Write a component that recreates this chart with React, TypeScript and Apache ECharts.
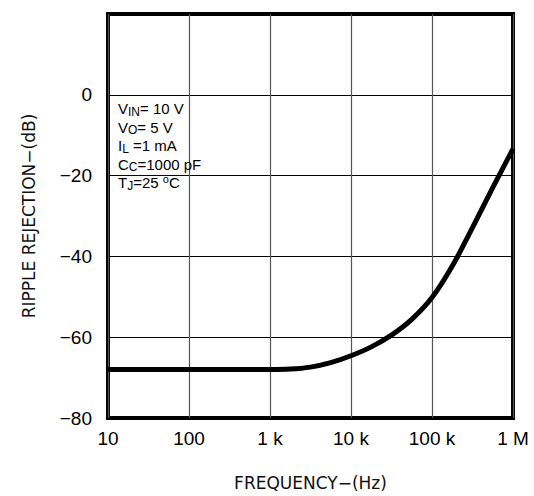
import React, { useEffect, useRef } from "react";
import * as echarts from "echarts";

const frequencies = [10, 100, 316, 1000, 1780, 3160, 5620, 10000, 17800, 31600, 56200, 100000, 178000, 316000, 562000, 1000000];
const rejectionDb = [-68, -68, -68, -68, -67.9, -67.4, -66.3, -64.6, -62.4, -59.5, -55.6, -50.2, -42.4, -32.9, -23.0, -13.4];
const xTickLabels: Record<number, string> = { 10: "10", 100: "100", 1000: "1 k", 10000: "10 k", 100000: "100 k", 1000000: "1 M" };
const yTickLabels: Record<number, string> = { 0: "0", [-20]: "−20", [-40]: "−40", [-60]: "−60", [-80]: "−80" };

export default function App() {
  const ref = useRef<HTMLDivElement>(null);
  useEffect(() => {
    document.body.style.margin = "0";
    const chart = echarts.init(ref.current!, null, { renderer: "svg" });
    const data = frequencies.map((f, i) => [f, rejectionDb[i]]);
    chart.setOption({
      animation: false,
      backgroundColor: "#fff",
      grid: {
        left: 108, right: 21, top: 14, bottom: 77,
        show: true, borderColor: "#000", borderWidth: 4, backgroundColor: "transparent",
      },
      xAxis: {
        type: "log", logBase: 10, min: 10, max: 1000000,
        name: "FREQUENCY−(Hz)", nameLocation: "middle", nameGap: 56,
        nameTextStyle: { fontFamily: "DejaVu Sans", fontSize: 17, color: "#111" },
        axisLine: { show: false }, axisTick: { show: false },
        axisLabel: {
          margin: 11, fontFamily: "Liberation Sans", fontSize: 19, color: "#000",
          formatter: (v: number) => xTickLabels[Math.round(v)] ?? "",
        },
        splitLine: { show: true, lineStyle: { color: "#555", width: 1.2 } },
        minorSplitLine: { show: false },
      },
      yAxis: {
        type: "value", min: -80, max: 20, interval: 20,
        name: "RIPPLE REJECTION−(dB)", nameLocation: "middle", nameGap: 71, nameRotate: 90,
        nameTextStyle: { fontFamily: "DejaVu Sans", fontSize: 17, color: "#111" },
        axisLine: { show: false }, axisTick: { show: false },
        axisLabel: {
          margin: 16, fontFamily: "Liberation Sans", fontSize: 19, color: "#000",
          formatter: (v: number) => yTickLabels[v] ?? "",
        },
        splitLine: { show: true, lineStyle: { color: "#000", width: 1.2 } },
      },
      graphic: [
        {
          type: "text", left: 118, top: 101, z: 10,
          style: {
            text: [
              "{m|V}{s|IN}{m|= 10 V}",
              "{m|V}{s|O}{m|= 5 V}",
              "{m|I}{s|L}{m| =1 mA}",
              "{m|C}{s|C}{m|=1000 pF}",
              "{m|T}{s|J}{m|=25 }{p|o}{m|C}",
            ].join("\n"),
            fill: "#000",
            rich: {
              m: { fontFamily: "Liberation Sans", fontSize: 15, lineHeight: 18.5, verticalAlign: "middle", fill: "#000" },
              s: { fontFamily: "Liberation Sans", fontSize: 12, lineHeight: 11, verticalAlign: "bottom", fill: "#000" },
              p: { fontFamily: "Liberation Sans", fontSize: 11, lineHeight: 11, verticalAlign: "top", fill: "#000" },
            },
          },
        },
      ],
      series: [
        {
          type: "line", data, smooth: 0.3, showSymbol: false,
          lineStyle: { color: "#000", width: 5 }, z: 5,
        },
      ],
    });
    return () => chart.dispose();
  }, []);
  return <div ref={ref} style={{ position: "absolute", left: 0, top: 0, width: 534, height: 496 }} />;
}
